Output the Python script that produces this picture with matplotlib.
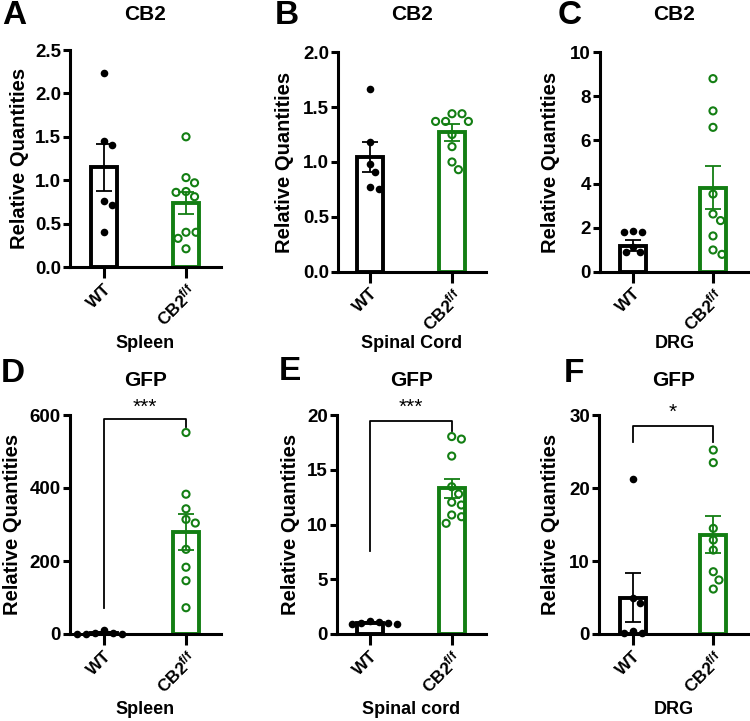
import matplotlib
matplotlib.use('Agg')
import matplotlib.pyplot as plt
import numpy as np
from matplotlib.ticker import FormatStrFormatter

plt.rcParams['font.family'] = ['Liberation Sans', 'DejaVu Sans']
plt.rcParams['font.weight'] = 'bold'
plt.rcParams['mathtext.fontset'] = 'custom'
plt.rcParams['mathtext.rm'] = 'Liberation Sans'
plt.rcParams['mathtext.it'] = 'Liberation Sans:italic'
plt.rcParams['mathtext.bf'] = 'Liberation Sans:bold'

# ---------------- data ----------------
groups = ['WT', r'CB2$^{\mathrm{f/f}}$']
panel_letters = ['A', 'B', 'C', 'D', 'E', 'F']
titles = ['CB2', 'CB2', 'CB2', 'GFP', 'GFP', 'GFP']
tissues = ['Spleen', 'Spinal Cord', 'DRG', 'Spleen', 'Spinal cord', 'DRG']

A_wt = [2.23, 1.45, 1.40, 0.76, 0.71, 0.40]
A_ko = [1.50, 1.03, 0.97, 0.87, 0.86, 0.81, 0.40, 0.40, 0.33, 0.21]
A_mean = [1.15, 0.735]
A_sem = [0.27, 0.124]
A_yticks = [0.0, 0.5, 1.0, 1.5, 2.0, 2.5]

B_wt = [1.67, 1.18, 0.98, 0.91, 0.77, 0.75]
B_ko = [1.44, 1.44, 1.37, 1.37, 1.37, 1.25, 1.14, 1.00, 0.93]
B_mean = [1.045, 1.27]
B_sem = [0.14, 0.075]
B_yticks = [0.0, 0.5, 1.0, 1.5, 2.0]

C_wt = [1.86, 1.80, 1.80, 1.14, 0.88, 0.88]
C_ko = [8.80, 7.33, 6.58, 3.54, 2.63, 2.33, 1.63, 0.99, 0.79]
C_mean = [1.18, 3.82]
C_sem = [0.25, 0.98]
C_yticks = [0, 2, 4, 6, 8, 10]

D_wt = [10, 4, 2, 1, 1, 0.5]
D_ko = [552, 383, 343, 314, 304, 232, 183, 146, 72]
D_mean = [3.0, 280]
D_sem = [1.5, 48.5]
D_yticks = [0, 200, 400, 600]
D_bracket = [70, 590, 568]
D_star = ['***', 622]

E_wt = [1.15, 1.10, 1.05, 1.00, 0.95, 0.90]
E_ko = [18.03, 17.80, 16.25, 13.45, 12.79, 12.03, 11.78, 10.87, 10.71, 10.11]
E_mean = [1.02, 13.3]
E_sem = [0.04, 0.9]
E_yticks = [0, 5, 10, 15, 20]
E_bracket = [7.6, 19.45, 18.5]
E_star = ['***', 20.7]

F_wt = [21.3, 4.9, 4.2, 0.45, 0.2, 0.2]
F_ko = [25.2, 23.47, 14.47, 12.88, 11.5, 8.53, 7.4, 6.16]
F_mean = [5.0, 13.6]
F_sem = [3.35, 2.5]
F_yticks = [0, 10, 20, 30]
F_bracket = [26.3, 28.5, 26.3]
F_star = ['*', 30.3]

# ---------------- layout (pixels) ----------------
W, H = 750, 721
GREEN = '#137E13'

layout = [
    dict(l=70, r=221, t=50, b=267, xw=104, xk=186, ylab=20, letter=(14, 15), title_y=15, xlab_y=343, fmt='%.1f'),
    dict(l=338, r=486, t=52.3, b=271.7, xw=370, xk=452, ylab=284, letter=(287, 15), title_y=15, xlab_y=343, fmt='%.1f'),
    dict(l=600, r=749, t=52.3, b=271.7, xw=633, xk=713, ylab=551, letter=(570, 15), title_y=15, xlab_y=343, fmt='%d'),
    dict(l=70, r=221, t=415, b=634, xw=104, xk=186, ylab=13, letter=(13, 373), title_y=381, xlab_y=710, fmt='%d'),
    dict(l=337, r=485.7, t=415, b=634, xw=370, xk=451.7, ylab=290, letter=(290, 372), title_y=381, xlab_y=710, fmt='%d'),
    dict(l=599, r=748, t=415, b=634, xw=632.7, xk=713.3, ylab=551, letter=(574, 374), title_y=381, xlab_y=710, fmt='%d'),
]

panel_data = [
    (A_wt, A_ko, A_mean, A_sem, A_yticks, None, None),
    (B_wt, B_ko, B_mean, B_sem, B_yticks, None, None),
    (C_wt, C_ko, C_mean, C_sem, C_yticks, None, None),
    (D_wt, D_ko, D_mean, D_sem, D_yticks, D_bracket, D_star),
    (E_wt, E_ko, E_mean, E_sem, E_yticks, E_bracket, E_star),
    (F_wt, F_ko, F_mean, F_sem, F_yticks, F_bracket, F_star),
]

fig = plt.figure(figsize=(W / 100, H / 100), dpi=100)


def fx(x):
    return x / W


def fy(y):
    return 1 - y / H


def swarm(ax, vals, xc, D):
    """Beeswarm offsets computed in pixel space, returned in data x."""
    vals = np.asarray(vals, dtype=float)
    pts = ax.transData.transform(np.column_stack([np.full(len(vals), xc), vals]))
    ys = pts[:, 1]
    x0 = pts[0, 0]
    placed = []
    offs = np.zeros(len(vals))
    for i in np.argsort(-vals, kind='stable'):
        y = ys[i]
        cands = [0.0]
        for px, py in placed:
            dy = y - py
            if abs(dy) < D:
                dx = np.sqrt(D * D - dy * dy)
                cands += [px + dx, px - dx]
        cands.sort(key=lambda c: (round(abs(c), 6), -c))
        for c in cands:
            if all((c - px) ** 2 + (y - py) ** 2 >= D * D - 1e-6 for px, py in placed):
                offs[i] = c
                placed.append((c, y))
                break
    inv = ax.transData.inverted()
    return np.array([inv.transform((x0 + o, 0))[0] for o in offs])


for k, (lay, pdata) in enumerate(zip(layout, panel_data)):
    wt, ko, mean, sem, yticks, bracket, star = pdata
    l, r, t, b = lay['l'], lay['r'], lay['t'], lay['b']
    ax = fig.add_axes([fx(l), fy(b), (r - l) / W, (b - t) / H])
    s = lay['xk'] - lay['xw']
    ax.set_xlim(-(lay['xw'] - l) / s, (r - lay['xw']) / s)
    ax.set_ylim(yticks[0], yticks[-1])
    for sp in ['top', 'right']:
        ax.spines[sp].set_visible(False)
    for sp in ['left', 'bottom']:
        ax.spines[sp].set_linewidth(2.2)
    ax.set_yticks(yticks)
    ax.yaxis.set_major_formatter(FormatStrFormatter(lay['fmt']))
    ax.tick_params(axis='y', length=5, width=2.2, labelsize=13.5, pad=1.5)
    ax.tick_params(axis='x', length=8, width=2.2, labelsize=12.5, pad=2)
    ax.set_xticks([0, 1])
    ax.set_xticklabels(groups, rotation=45, ha='right', rotation_mode='anchor')
    for lab in ax.get_yticklabels() + ax.get_xticklabels():
        lab.set_fontweight('bold')

    colors = ['black', GREEN]
    ax.bar([0, 1], mean, width=0.32, color='white', edgecolor=colors,
           linewidth=2.8, zorder=2)
    for i in range(2):
        ax.errorbar(i, mean[i], yerr=sem[i], color=colors[i], lw=1.3,
                    capsize=5.5, capthick=1.3, zorder=3)

    xs_wt = swarm(ax, wt, 0, 9.0)
    xs_ko = swarm(ax, ko, 1, 10.0)
    ax.scatter(xs_wt, wt, s=30, color='black', zorder=4, clip_on=False,
               linewidths=0)
    ax.scatter(xs_ko, ko, s=26, facecolors='none', edgecolors=GREEN,
               linewidths=1.5, zorder=4, clip_on=False)

    if bracket is not None:
        ax.plot([0, 0, 1, 1], [bracket[0], bracket[1], bracket[1], bracket[2]],
                color='black', lw=1.3, clip_on=False, zorder=5)
        ax.text(0.5, star[1], star[0], ha='center', va='center', fontsize=15,
                fontweight='normal', clip_on=False)

    cx = (l + r) / 2
    fig.text(fx(cx), fy(lay['title_y']), titles[k], ha='center', va='center',
             fontsize=15, fontweight='bold')
    fig.text(fx(cx), fy(lay['xlab_y']), tissues[k], ha='center', va='center',
             fontsize=13, fontweight='bold')
    fig.text(fx(lay['ylab']), fy((t + b) / 2), 'Relative Quantities', rotation=90,
             ha='center', va='center', fontsize=14.5, fontweight='bold')
    fig.text(fx(lay['letter'][0]), fy(lay['letter'][1]), panel_letters[k],
             ha='center', va='center', fontsize=24, fontweight='bold')

fig.savefig('out.png', dpi=100, facecolor='white')
